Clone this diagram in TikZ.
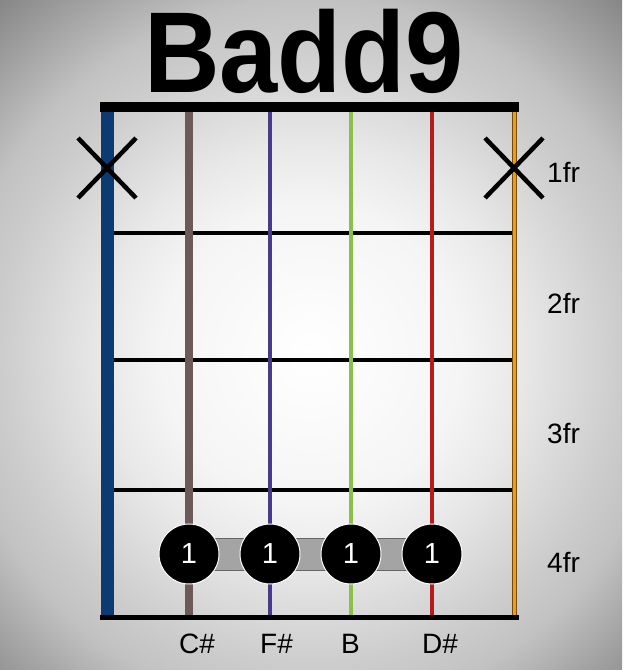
\documentclass[tikz,border=0pt]{standalone}
\usepackage{fontspec}
\setmainfont{Liberation Sans}
\usepackage{graphicx}
\usetikzlibrary{calc}
\definecolor{sblue}{HTML}{0B3B72}
\definecolor{sbrown}{HTML}{6B5A58}
\definecolor{spurple}{HTML}{4A3A8C}
\definecolor{sgreen}{HTML}{8BBF4A}
\definecolor{sred}{HTML}{B71C1C}
\definecolor{sorange}{HTML}{E0A020}
\definecolor{sorangedark}{HTML}{7A4A00}
\definecolor{barregray}{HTML}{A4A4A4}
\pgfdeclareradialshading{vignette}{\pgfpoint{0bp}{0bp}}{%
  color(0bp)=(white);
  color(7.8bp)=(white!96!black);
  color(11bp)=(white!91!black);
  color(16.2bp)=(white!80!black);
  color(18.5bp)=(white!76!black);
  color(24.5bp)=(white!53!black);
  color(25bp)=(white!52!black);
  color(50bp)=(white!52!black)}
\begin{document}
\begin{tikzpicture}[x=1pt,y=-1pt,
  fretline/.style={line width=4.5pt, black},
  mutex/.style={line width=4.5pt, black},
  dot/.style={circle, fill=black, draw=white, line width=1pt, minimum size=60pt, inner sep=0pt, text=white, font=\fontsize{29}{29}\selectfont},
  frlabel/.style={anchor=base west, inner sep=0pt, font=\fontsize{28}{28}\selectfont},
  notelabel/.style={anchor=base west, inner sep=0pt, font=\fontsize{28}{28}\selectfont},
  barre/.style={fill=barregray, draw=gray!80!black, line width=0.8pt}
]
\useasboundingbox (0,0) rectangle (622,670);
\begin{scope}
\clip (0,0) rectangle (622,670);
\shade[shading=vignette] (311,355) circle [radius=480pt];
\end{scope}
% title
\node[anchor=base, inner sep=0pt] (title) at (304,92) {\scalebox{0.91}[1]{\fontsize{115}{115}\selectfont\bfseries Badd9}};
% nut and bottom line
\fill[black] (100,102) rectangle (519,112);
\fill[black] (100,615) rectangle (519,620);
% frets
\foreach \y in {233,360,490} \draw[fretline] (114,\y) -- (512,\y);
% strings
\draw[line width=13pt, sblue] (107.5,112) -- (107.5,615);
\draw[line width=8pt, sbrown] (189,112) -- (189,615);
\draw[line width=4pt, spurple] (270,112) -- (270,615);
\draw[line width=4pt, sgreen] (351,112) -- (351,615);
\draw[line width=4pt, sred] (432,112) -- (432,615);
\draw[line width=5.5pt, sorangedark] (514.5,112) -- (514.5,615);
\draw[line width=3.5pt, sorange] (514.5,112) -- (514.5,615);
% muted strings
\draw[mutex] (78,138) -- (136,198) (78,198) -- (136,138);
\draw[mutex] (485,138) -- (543,198) (485,198) -- (543,138);
% barre and dots
\coordinate (bL) at (189,554);
\coordinate (bR) at (432,554);
\path[barre] ($(bL)+(0,-16)$) rectangle ($(bR)+(0,16)$);
\node[dot] (d1) at (bL) {1};
\node[dot] (d2) at (270,554) {1};
\node[dot] (d3) at (351,554) {1};
\node[dot] (d4) at (bR) {1};
% fret labels
\node[frlabel] (fr1) at (547,182) {1fr};
\node[frlabel] (fr2) at (547,313) {2fr};
\node[frlabel] (fr3) at (547,443) {3fr};
\node[frlabel] (fr4) at (547,572) {4fr};
% note labels
\node[notelabel] (n1) at (179,653) {C\#};
\node[notelabel] (n2) at (260,653) {F\#};
\node[notelabel] (n3) at (341,653) {B};
\node[notelabel] (n4) at (422,653) {D\#};
\end{tikzpicture}
\end{document}
